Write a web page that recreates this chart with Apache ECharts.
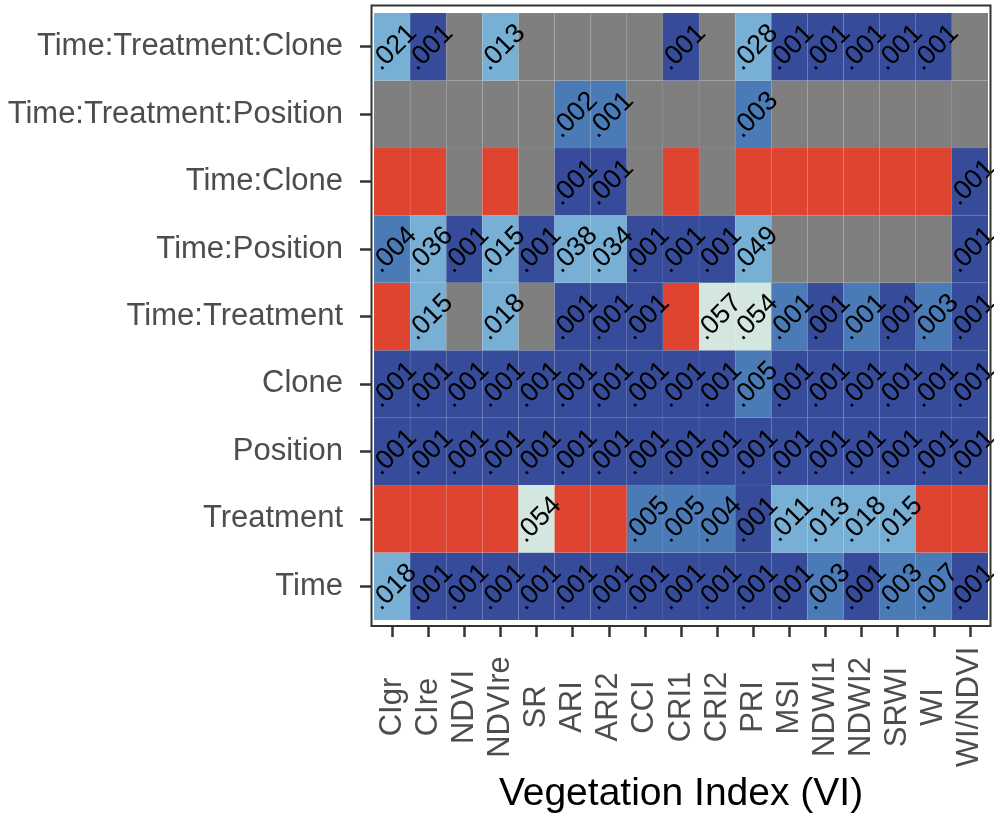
<!DOCTYPE html>
<html>
<head>
<meta charset="utf-8">
<title>Vegetation Index significance</title>
<script src="https://cdn.jsdelivr.net/npm/echarts@6/dist/echarts.min.js"></script>
<style>
  html, body { margin: 0; padding: 0; background: #ffffff; }
  #chart { width: 994px; height: 816px; }
</style>
</head>
<body>
<div id="chart"></div>
<script>
// Vegetation indices along the x axis
const indices = ['CIgr', 'CIre', 'NDVI', 'NDVIre', 'SR', 'ARI', 'ARI2', 'CCI', 'CRI1',
  'CRI2', 'PRI', 'MSI', 'NDWI1', 'NDWI2', 'SRWI', 'WI', 'WI/NDVI'];

// Model terms, bottom row first
const terms = ['Time', 'Treatment', 'Position', 'Clone', 'Time:Treatment', 'Time:Position',
  'Time:Clone', 'Time:Treatment:Position', 'Time:Treatment:Clone'];

// p-values per term (one entry per index); 'ns' = not significant, null = term not in model
const pTime = [0.018, 0.0008, 0.0008, 0.0008, 0.0008, 0.0008, 0.0008, 0.0008, 0.0008,
  0.0008, 0.0008, 0.0008, 0.003, 0.0008, 0.003, 0.007, 0.0008];
const pTreatment = ['ns', 'ns', 'ns', 'ns', 0.054, 'ns', 'ns', 0.005, 0.005,
  0.004, 0.0008, 0.011, 0.013, 0.018, 0.015, 'ns', 'ns'];
const pPosition = [0.0008, 0.0008, 0.0008, 0.0008, 0.0008, 0.0008, 0.0008, 0.0008, 0.0008,
  0.0008, 0.0008, 0.0008, 0.0008, 0.0008, 0.0008, 0.0008, 0.0008];
const pClone = [0.0008, 0.0008, 0.0008, 0.0008, 0.0008, 0.0008, 0.0008, 0.0008, 0.0008,
  0.0008, 0.005, 0.0008, 0.0008, 0.0008, 0.0008, 0.0008, 0.0008];
const pTimeTreatment = ['ns', 0.015, null, 0.018, null, 0.0008, 0.0008, 0.0008, 'ns',
  0.057, 0.054, 0.0012, 0.0008, 0.0012, 0.0008, 0.003, 0.0008];
const pTimePosition = [0.004, 0.036, 0.0008, 0.015, 0.0008, 0.038, 0.034, 0.0008, 0.0008,
  0.0008, 0.049, null, null, null, null, null, 0.0008];
const pTimeClone = ['ns', 'ns', null, 'ns', null, 0.0008, 0.0008, null, 'ns',
  null, 'ns', 'ns', 'ns', 'ns', 'ns', 'ns', 0.0008];
const pTimeTreatmentPosition = [null, null, null, null, null, 0.002, 0.0012, null, null,
  null, 0.003, null, null, null, null, null, null];
const pTimeTreatmentClone = [0.021, 0.0008, null, 0.013, null, null, null, null, 0.0008,
  null, 0.028, 0.0008, 0.0008, 0.0008, 0.0008, 0.0008, null];

const rows = [pTime, pTreatment, pPosition, pClone, pTimeTreatment, pTimePosition,
  pTimeClone, pTimeTreatmentPosition, pTimeTreatmentClone];

// significance classes
function fillFor(p) {
  if (p === null) return '#7F7F7F';
  if (p === 'ns') return '#DE4430';
  if (p <= 0.001) return '#364B9A';
  if (p < 0.01) return '#4A7BB7';
  if (p < 0.05) return '#77AFD5';
  return '#D3E6DF';
}
function labelFor(p) {
  if (typeof p !== 'number') return '';
  return p.toFixed(3).replace(/^0/, '');
}

const cells = [];
rows.forEach((vals, j) => vals.forEach((p, i) => cells.push({ i, j, p })));

const FONT = '"Liberation Sans", Arial, Helvetica, sans-serif';
const tickStyle = { show: true, alignWithLabel: true, length: 11, lineStyle: { color: '#333333', width: 2.5 } };
const hiddenLine = { show: true, lineStyle: { color: 'rgba(0,0,0,0)', width: 1 } };

const chart = echarts.init(document.getElementById('chart'), null, { renderer: 'canvas' });

chart.setOption({
  animation: false,
  backgroundColor: '#ffffff',
  grid: { left: 374, top: 13, width: 614, height: 607, containLabel: false, outerBoundsMode: 'none' },
  xAxis: {
    type: 'category',
    data: indices,
    position: 'bottom',
    offset: 6,
    axisLine: hiddenLine,
    axisTick: tickStyle,
    axisLabel: {
      rotate: 90, align: 'center', verticalAlign: 'middle', margin: 81,
      fontSize: 31, color: '#4D4D4D', fontFamily: FONT, interval: 0
    },
    splitLine: { show: false },
    name: 'Vegetation Index (VI)',
    nameLocation: 'middle',
    nameGap: 137,
    nameTextStyle: { fontSize: 39, color: '#000000', fontFamily: FONT }
  },
  yAxis: {
    type: 'category',
    data: terms,
    offset: 3,
    axisLine: hiddenLine,
    axisTick: tickStyle,
    axisLabel: { margin: 28, fontSize: 31, color: '#4D4D4D', fontFamily: FONT, interval: 0 },
    splitLine: { show: false }
  },
  graphic: [{
    type: 'rect',
    shape: { x: 371.5, y: 5.5, width: 619, height: 620.5 },
    style: { fill: 'none', stroke: '#333333', lineWidth: 2 },
    z: 10
  }],
  series: [{
    type: 'custom',
    data: cells.map(c => [c.i, c.j]),
    renderItem(params, api) {
      const cell = cells[params.dataIndex];
      const c = api.coord([api.value(0), api.value(1)]);
      const s = api.size([1, 1]);
      const children = [{
        type: 'rect',
        shape: { x: c[0] - s[0] / 2, y: c[1] - s[1] / 2, width: s[0], height: s[1] },
        style: { fill: fillFor(cell.p), stroke: 'rgba(255,255,255,0.05)', lineWidth: 1 }
      }];
      const txt = labelFor(cell.p);
      if (txt) {
        children.push({
          type: 'text',
          x: c[0] + 2,
          y: c[1] + 1,
          rotation: Math.PI / 4,
          z2: 50,
          style: {
            text: txt,
            fill: '#000000',
            font: '27px ' + FONT,
            align: 'center',
            verticalAlign: 'middle'
          }
        });
      }
      return { type: 'group', children };
    }
  }]
});
</script>
</body>
</html>
